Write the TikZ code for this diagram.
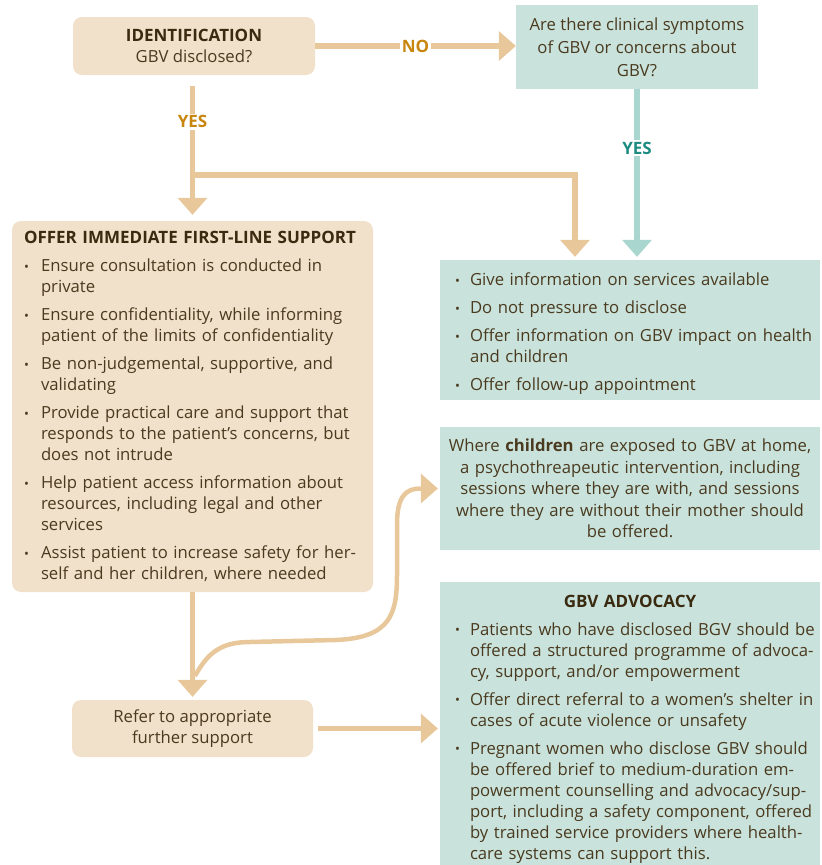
\documentclass[tikz,border=0pt]{standalone}
\usepackage{fontspec}
\setmainfont{Open Sans}
\usetikzlibrary{arrows.meta, positioning, calc}

\definecolor{beigefill}{HTML}{F2E1CA}
\definecolor{beigeline}{HTML}{E8C89B}
\definecolor{tealfill}{HTML}{C9E3DC}
\definecolor{tealline}{HTML}{A9D6CF}
\definecolor{nolabel}{HTML}{C8860E}
\definecolor{yeslabel}{HTML}{1D8C82}
\definecolor{bodytext}{HTML}{4A3A1F}
\definecolor{titletext}{HTML}{3A2A10}

% bullet items inside the boxes
\newlength{\bhang}
\newlength{\boff}
\newcommand{\bitem}[1]{\par\hangindent=\bhang\hangafter=1\noindent\makebox[\bhang][l]{\hspace{\boff}\raisebox{0.5pt}{\fontsize{13}{13}\selectfont •}}#1\par}
\newcommand{\bgap}{\vspace{7pt}}
\newcommand{\boxtitle}[1]{\textcolor{titletext}{\fontsize{17}{21}\selectfont\bfseries #1}}

\begin{document}
\begin{tikzpicture}[x=1pt, y=-1pt,
    every node/.style={text=bodytext, font=\fontsize{16.7}{21}\selectfont},
    beigebox/.style={fill=beigefill, rounded corners=9pt, align=center},
    tealbox/.style={fill=tealfill, align=center},
    beigelist/.style={beigebox, align=left, inner xsep=12pt, execute at begin node={\setlength{\bhang}{17pt}\setlength{\boff}{0pt}}},
    teallist/.style={tealbox, align=left, inner xsep=2pt, execute at begin node={\setlength{\bhang}{28pt}\setlength{\boff}{13pt}}},
    beigearrow/.style={draw=beigeline, line width=5.5pt, -{Triangle[width=30pt,length=17pt,line width=0pt]}},
    tealarrow/.style={beigearrow, draw=tealline},
    answer/.style={fill=white, inner sep=2pt, font=\fontsize{17}{18}\selectfont\bfseries}
  ]
  \useasboundingbox (0,0) rectangle (822,865);

  % Boxes
  \node[beigebox, minimum width=242pt, minimum height=58pt] (ident) at (194,46)
    {\boxtitle{IDENTIFICATION}\\GBV disclosed?};
  \node[tealbox, minimum width=242pt, minimum height=84pt, font=\fontsize{16.7}{23}\selectfont] (clinical) at (637,47)
    {Are there clinical symptoms\\of GBV or concerns about\\GBV?};

  \node[beigelist, text width=337pt, minimum height=371pt] (support) at (192.5,406.5) {%
    \mbox{\boxtitle{OFFER IMMEDIATE FIRST-LINE SUPPORT}}\par
    \bgap\bitem{Ensure consultation is conducted in\newline private}
    \bgap\bitem{Ensure confidentiality, while informing\newline patient of the limits of confidentiality}
    \bgap\bitem{Be non-judgemental, supportive, and\newline validating}
    \bgap\bitem{Provide practical care and support that\newline responds to the patient’s concerns, but\newline does not intrude}
    \bgap\bitem{Help patient access information about\newline resources, including legal and other\newline services}
    \bgap\bitem{Assist patient to increase safety for her-\newline self and her children, where needed}};

  \node[teallist, text width=376pt, minimum height=140pt] (info) at (630,330) {%
    \bitem{Give information on services available}
    \bgap\bitem{Do not pressure to disclose}
    \bgap\bitem{Offer information on GBV impact on health\newline and children}
    \bgap\bitem{Offer follow-up appointment}};

  \node[tealbox, text width=372pt, inner xsep=4pt, minimum height=123pt, font=\fontsize{16.7}{21.5}\selectfont] (children) at (630,488.5)
    {Where \textbf{children} are exposed to GBV at home,\\a psychothreapeutic intervention, including\\sessions where they are with, and sessions\\where they are without their mother should\\be offered.};

  \node[teallist, text width=376pt, minimum height=294pt] (advocacy) at (630,729) {%
    {\centering\boxtitle{GBV ADVOCACY}\par}
    \bgap\bitem{Patients who have disclosed BGV should be\newline offered a structured programme of advoca-\newline cy, support, and/or empowerment}
    \bgap\bitem{Offer direct referral to a women’s shelter in\newline cases of acute violence or unsafety}
    \bgap\bitem{Pregnant women who disclose GBV should\newline be offered brief to medium-duration em-\newline powerment counselling and advocacy/sup-\newline port, including a safety component, offered\newline by trained service providers where health-\newline care systems can support this.}};

  \node[beigebox, minimum width=241pt, minimum height=57pt] (refer) at (192.5,728.5)
    {Refer to appropriate\\further support};

  % Connectors
  \coordinate (split) at (192.5,175);
  \coordinate (curvestart) at (195,676);

  \draw[beigearrow] (ident.east) -- node[answer, text=nolabel, pos=0.5] {NO} (ident.east -| clinical.west);
  \draw[beigearrow, shorten <=11pt, shorten >=6pt] (ident.south -| support.north) -- node[answer, text=nolabel, pos=0.32] {YES} (support.north);
  \draw[beigearrow, shorten >=3pt] (split) -| ([xshift=-55pt]info.north);
  \draw[tealarrow, shorten >=3pt] (clinical.south) -- node[answer, text=yeslabel, pos=0.345] {YES} (clinical.south |- info.north);
  \draw[beigearrow, shorten >=3pt] (support.south) -- (refer.north);
  \draw[beigearrow, line width=4.5pt, shorten >=2pt] (curvestart) .. controls (208,652) and (222,642) .. (250,642)
    -- (335,640) .. controls (390,638) and (397,615) .. (397,575) -- (397,525)
    .. controls (397,497) and (405,488.5) .. (children.west);
  \draw[beigearrow, shorten <=5pt, shorten >=2pt] (refer.east) -- (refer.east -| advocacy.west);
\end{tikzpicture}
\end{document}
